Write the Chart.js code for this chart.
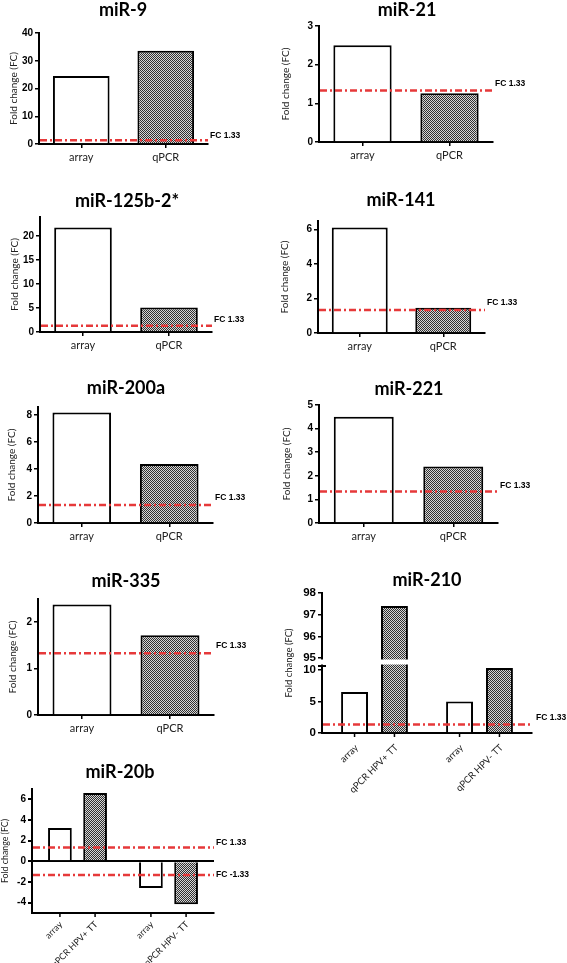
<!DOCTYPE html>
<html><head><meta charset="utf-8">
<script src="https://cdn.jsdelivr.net/npm/chart.js@4.4.1/dist/chart.umd.min.js"></script>
<style>
html,body{margin:0;padding:0;background:#fff;width:567px;height:963px;overflow:hidden;position:relative}
canvas{position:absolute}
</style></head><body>
<script>
// ---------------- data ----------------
const categories2 = ['array', 'qPCR'];
const mir9Values = [24.5, 33.6];
const mir9Ticks = [0, 10, 20, 30, 40];
const mir21Values = [2.5, 1.26];
const mir21Ticks = [0, 1, 2, 3];
const mir125Values = [21.8, 5.1];
const mir125Ticks = [0, 5, 10, 15, 20];
const mir141Values = [6.12, 1.47];
const mir141Ticks = [0, 2, 4, 6];
const mir200aValues = [8.2, 4.38];
const mir200aTicks = [0, 2, 4, 6, 8];
const mir221Values = [4.5, 2.39];
const mir221Ticks = [0, 1, 2, 3, 4, 5];
const mir335Values = [2.38, 1.72];
const mir335Ticks = [0, 1, 2];
const groupLabels = ['HPV+ TT', 'HPV- TT'];
const barLabels4 = [['array', 'qPCR HPV+ TT'], ['array', 'qPCR HPV- TT']];
const mir210Array = [6.5, 5.0];
const mir210QPCR = [97.4, 10.3];
const mir210Ticks = [0, 5, 10, 95, 96, 97, 98];
const mir210LowRange = [0, 10.6];
const mir210HighRange = [95, 98];
const mir20bArray = [3.22, -2.59];
const mir20bQPCR = [6.62, -4.16];
const mir20bTicks = [-4, -2, 0, 2, 4, 6];
const fcThreshold = [1.33];
const fcThresholds20b = [1.33, -1.33];
const fcLabel = ['FC 1.33'];
const fcLabels20b = ['FC 1.33', 'FC -1.33'];

// ---------------- styles ----------------
const RED = '#e6393a';
const LOW_FRAC = 67 / 140, HIGH_FRAC = 65 / 140;

class BrokenScale extends Chart.LinearScale {
  static id = 'brokenLinear';
  static defaults = Chart.LinearScale.defaults;
  getPixelForValue(v) {
    const top = this.top, bottom = this.bottom, H = bottom - top;
    const lowH = H * LOW_FRAC, upH = H * HIGH_FRAC, gapH = H - lowH - upH;
    const [l0, l1] = mir210LowRange, [h0, h1] = mir210HighRange;
    if (v <= l1) return bottom - (v - l0) / (l1 - l0) * lowH;
    if (v >= h0) return top + (h1 - v) / (h1 - h0) * upH;
    return bottom - lowH - (v - l1) / (h0 - l1) * gapH;
  }
  getValueForPixel(p) {
    const top = this.top, bottom = this.bottom, H = bottom - top;
    const lowH = H * LOW_FRAC, upH = H * HIGH_FRAC;
    const [l0, l1] = mir210LowRange, [h0, h1] = mir210HighRange;
    if (p >= bottom - lowH) return l0 + (bottom - p) / lowH * (l1 - l0);
    if (p <= top + upH) return h1 - (p - top) / upH * (h1 - h0);
    return l1;
  }
}
Chart.register(BrokenScale);

function makePattern(ctx) {
  const c = document.createElement('canvas'); c.width = 2; c.height = 2;
  const g = c.getContext('2d');
  g.fillStyle = '#d6d6d6'; g.fillRect(0, 0, 2, 2);
  g.fillStyle = '#303030'; g.fillRect(0, 0, 1, 1); g.fillRect(1, 1, 1, 1);
  return ctx.createPattern(c, 'repeat');
}

const panels = [
  {title: 'miR-9', labels: categories2, values: mir9Values, ticks: mir9Ticks, min: 0, max: 40,
   box: [0, 0, 280, 178], area: [39, 33, 208, 144], tXY: [123, 16], yTX: 14, th: fcThreshold, thL: fcLabel, fcDy: [-5]},
  {title: 'miR-21', labels: categories2, values: mir21Values, ticks: mir21Ticks, min: 0, max: 3,
   box: [280, 0, 287, 178], area: [319, 26, 493, 142], tXY: [407, 16], yTX: 285.5, th: fcThreshold, thL: fcLabel, fcDy: [-7]},
  {title: 'miR-125b-2*', labels: categories2, values: mir125Values, ticks: mir125Ticks, min: 0, max: 24,
   box: [0, 178, 280, 180], area: [40, 217, 212, 332], tXY: [127, 207], yTX: 15, th: fcThreshold, thL: fcLabel, fcDy: [-6]},
  {title: 'miR-141', labels: categories2, values: mir141Values, ticks: mir141Ticks, min: 0, max: 6.5,
   box: [280, 178, 287, 180], area: [318, 221, 485, 333], tXY: [401, 206], yTX: 285, th: fcThreshold, thL: fcLabel, fcDy: [-7]},
  {title: 'miR-200a', labels: categories2, values: mir200aValues, ticks: mir200aTicks, min: 0, max: 8.6,
   box: [0, 358, 280, 190], area: [38, 407, 213, 523], tXY: [126, 394], yTX: 12, th: fcThreshold, thL: fcLabel, fcDy: [-7]},
  {title: 'miR-221', labels: categories2, values: mir221Values, ticks: mir221Ticks, min: 0, max: 5,
   box: [280, 358, 287, 190], area: [319, 405, 498, 523], tXY: [409, 395], yTX: 287, th: fcThreshold, thL: fcLabel, fcDy: [-6]},
  {title: 'miR-335', labels: categories2, values: mir335Values, ticks: mir335Ticks, min: 0, max: 2.5,
   box: [0, 548, 280, 195], area: [38, 599, 214, 715], tXY: [126, 587], yTX: 12.5, th: fcThreshold, thL: fcLabel, fcDy: [-8]},
  {title: 'miR-210', four: true, brk: true, labels: groupLabels, arr: mir210Array, q: mir210QPCR, ticks: mir210Ticks, min: 0, max: 98,
   cp: 0.76, box: [280, 548, 287, 265], area: [322, 593, 532, 733], tXY: [427, 586], yTX: 289, yTSize: 9.5, tickSize: 11.5,
   labSize: 9.5, labOff: [2, 13], fcX: 4, th: fcThreshold, thL: fcLabel, fcDy: [-7]},
  {title: 'miR-20b', four: true, zero: true, labels: groupLabels, arr: mir20bArray, q: mir20bQPCR, ticks: mir20bTicks, min: -5, max: 7,
   cp: 0.773, box: [0, 743, 280, 220], area: [32, 789, 214, 913], tXY: [120, 778], yTX: 5.5, yTSize: 8.8, labSize: 9,
   labOff: [1, 10], th: fcThresholds20b, thL: fcLabels20b, fcDy: [-5, 0]}
];

function deco(p) {
  return {
    id: 'deco',
    afterDatasetsDraw(chart) {
      const ctx = chart.ctx, ca = chart.chartArea, y = chart.scales.y;
      ctx.save();
      if (p.brk) {
        const y95 = y.getPixelForValue(mir210HighRange[0]);
        const yLow = y.getPixelForValue(mir210LowRange[1]);
        ctx.fillStyle = '#fff';
        ctx.fillRect(ca.left - 5, y95 + 1.5, ca.right - ca.left + 5, yLow - y95 - 3);
        ctx.strokeStyle = '#000'; ctx.lineWidth = 2;
        ctx.beginPath(); ctx.moveTo(ca.left - 4, yLow); ctx.lineTo(ca.left + 4, yLow); ctx.stroke();
      }
      p.th.forEach((v, i) => {
        const py = y.getPixelForValue(v);
        ctx.strokeStyle = RED; ctx.lineWidth = 2.5; ctx.setLineDash([7, 3, 2, 3]);
        ctx.beginPath(); ctx.moveTo(ca.left + 1, py); ctx.lineTo(ca.right, py); ctx.stroke();
        ctx.setLineDash([]);
        ctx.fillStyle = '#000'; ctx.font = 'bold 8.5px "Liberation Sans"';
        ctx.textAlign = 'left'; ctx.textBaseline = 'middle';
        ctx.fillText(p.thL[i], ca.right + (p.fcX || 2), py + p.fcDy[i]);
      });
      ctx.restore();
    },
    afterDraw(chart) {
      const ctx = chart.ctx, ca = chart.chartArea;
      const ox = p.box[0], oy = p.box[1];
      ctx.save();
      ctx.fillStyle = '#000';
      ctx.font = 'bold 18px Lato';
      ctx.textAlign = 'center'; ctx.textBaseline = 'alphabetic';
      ctx.fillText(p.title, p.tXY[0] - ox, p.tXY[1] - oy);
      ctx.save();
      ctx.translate(p.yTX - ox, (ca.top + ca.bottom) / 2);
      ctx.rotate(-Math.PI / 2);
      ctx.font = (p.yTSize || 10) + 'px Lato';
      ctx.fillStyle = '#222'; ctx.textBaseline = 'middle';
      ctx.fillText('Fold change (FC)', 0, 0);
      ctx.restore();
      if (p.four) {
        ctx.strokeStyle = '#000'; ctx.lineWidth = 1.5;
        ctx.font = (p.labSize || 10) + 'px Lato'; ctx.fillStyle = '#222';
        [0, 1].forEach(d => {
          const meta = chart.getDatasetMeta(d);
          meta.data.forEach((el, i) => {
            const x = el.x;
            ctx.beginPath(); ctx.moveTo(x, ca.bottom); ctx.lineTo(x, ca.bottom + 4); ctx.stroke();
            ctx.save();
            ctx.translate(x + p.labOff[0], ca.bottom + p.labOff[1]);
            ctx.rotate(-Math.PI / 4);
            ctx.textAlign = 'right'; ctx.textBaseline = 'middle';
            ctx.fillText(barLabels4[i][d], 0, 0);
            ctx.restore();
          });
        });
      }
      ctx.restore();
    }
  };
}

panels.forEach(p => {
  const cv = document.createElement('canvas');
  const [x0, y0, w, h] = p.box;
  cv.width = w; cv.height = h;
  cv.style.left = x0 + 'px'; cv.style.top = y0 + 'px';
  document.body.appendChild(cv);
  const ctx = cv.getContext('2d');
  const pat = makePattern(ctx);
  const [L, T, R, B] = p.area;
  const YW = 22, XH = 24;
  let datasets;
  if (p.four) {
    datasets = [
      {data: p.arr, backgroundColor: '#fff'},
      {data: p.q, backgroundColor: pat}
    ].map(d => Object.assign(d, {borderColor: '#000', borderWidth: 2, borderSkipped: 'start',
      barPercentage: 0.675, categoryPercentage: p.cp}));
  } else {
    datasets = [{data: p.values, backgroundColor: ['#fff', pat], borderColor: '#000', borderWidth: 2,
      borderSkipped: 'start', barPercentage: 0.67, categoryPercentage: 1}];
  }
  new Chart(cv, {
    type: 'bar',
    data: {labels: p.labels, datasets},
    options: {
      responsive: false, maintainAspectRatio: false, animation: false, events: [],
      layout: {padding: {left: L - x0 - YW, top: T - y0, right: x0 + w - R, bottom: y0 + h - B - XH}},
      plugins: {legend: {display: false}, title: {display: false}, tooltip: {enabled: false}},
      scales: {
        x: {
          type: 'category', offset: true,
          grid: {display: !p.four, drawOnChartArea: false, offset: false, tickLength: 4, color: '#000', lineWidth: 1.5},
          border: {display: true, color: '#000', width: 2},
          ticks: {display: !p.four, color: '#222', font: {family: 'Lato', size: 11}, padding: 3, maxRotation: 0, autoSkip: false},
          afterFit: s => { s.height = XH; }
        },
        y: {
          type: p.brk ? 'brokenLinear' : 'linear', min: p.min, max: p.max,
          grid: {display: true, drawOnChartArea: !!p.zero,
                 color: c => (p.zero && c.tick && c.tick.value === 0) ? '#000' : 'rgba(0,0,0,0)',
                 tickColor: '#000', tickLength: 4, lineWidth: p.zero ? 2 : 1.5},
          border: {display: true, color: '#000', width: 2},
          ticks: {color: '#000', font: {family: 'Liberation Sans', size: p.tickSize || 10, weight: 'bold'}, padding: 2},
          afterBuildTicks: s => { s.ticks = p.ticks.map(v => ({value: v})); },
          afterFit: s => { s.width = YW; }
        }
      }
    },
    plugins: [deco(p)]
  });
});
</script>
</body></html>
